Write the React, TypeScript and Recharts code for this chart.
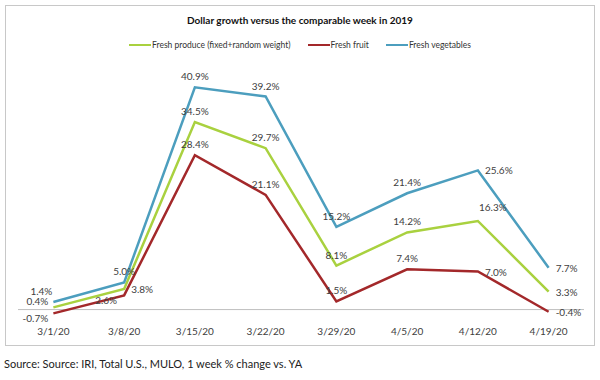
import { LineChart, Line, XAxis, YAxis, ReferenceLine, LabelList } from 'recharts';

const weeks = ['3/1/20', '3/8/20', '3/15/20', '3/22/20', '3/29/20', '4/5/20', '4/12/20', '4/19/20'];
const produce = [0.4, 3.8, 34.5, 29.7, 8.1, 14.2, 16.3, 3.3];
const fruit = [-0.7, 2.6, 28.4, 21.1, 1.5, 7.4, 7.0, -0.4];
const vegetables = [1.4, 5.0, 40.9, 39.2, 15.2, 21.4, 25.6, 7.7];

// where each value label sits relative to its point
const producePos = ['l', 'r', 't', 't', 't', 't', 'tr', 'r'];
const fruitPos = ['bl', 'bl', 't', 't', 't', 't', 'r', 'r'];
const vegPos = ['tl', 't', 't', 't', 't', 't', 'r', 'r'];

const data = weeks.map((w, i) => ({
  week: w,
  produce: produce[i],
  fruit: fruit[i],
  vegetables: vegetables[i],
}));

const GREEN = '#A9D13F';
const RED = '#A3282A';
const BLUE = '#4C9EBE';
const FONT = 'Lato, "Open Sans", sans-serif';

const offsets: Record<string, { dx: number; dy: number; anchor: 'start' | 'middle' | 'end' }> = {
  t: { dx: 0, dy: -11, anchor: 'middle' },
  tl: { dx: -12, dy: -11, anchor: 'middle' },
  tr: { dx: 15, dy: -14, anchor: 'middle' },
  l: { dx: -16, dy: -6, anchor: 'middle' },
  bl: { dx: -18, dy: 5, anchor: 'middle' },
  r: { dx: 7, dy: 0, anchor: 'start' },
};

const makeLabel = (positions: string[]) => (props: any) => {
  const { x, y, value, index } = props;
  const o = offsets[positions[index]] || offsets.t;
  return (
    <text
      x={x + o.dx}
      y={y + o.dy}
      textAnchor={o.anchor}
      dominantBaseline="central"
      fontSize={10}
      fontFamily={FONT}
      fill="#404040"
    >
      {value.toFixed(1)}%
    </text>
  );
};

const legendItems = [
  { name: 'Fresh produce (fixed+random weight)', color: GREEN },
  { name: 'Fresh fruit', color: RED },
  { name: 'Fresh vegetables', color: BLUE },
];

export default function App() {
  return (
    <div style={{ position: 'absolute', left: 0, top: 0, width: 600, height: 380, background: '#fff', fontFamily: FONT }}>
      <div
        style={{
          position: 'absolute',
          left: 5,
          top: 5,
          width: 588,
          height: 339,
          border: '1px solid #c8c8c8',
        }}
      >
        <div
          style={{
            position: 'absolute',
            top: 8,
            width: '100%',
            textAlign: 'center',
            fontWeight: 'bold',
            fontSize: 10,
            color: '#111',
          }}
        >
          Dollar growth versus the comparable week in 2019
        </div>
        <div
          style={{
            position: 'absolute',
            top: 34,
            width: '100%',
            display: 'flex',
            justifyContent: 'center',
            gap: 17,
            fontSize: 8.5,
            color: '#333',
          }}
        >
          {legendItems.map((it) => (
            <div key={it.name} style={{ display: 'flex', alignItems: 'center' }}>
              <span style={{ display: 'inline-block', width: 22, height: 2, background: it.color, marginRight: 1 }} />
              {it.name}
            </div>
          ))}
        </div>
        <div style={{ position: 'absolute', left: 0, top: 0 }}>
          <LineChart width={590} height={340} data={data} margin={{ top: 59, right: 12, bottom: 1, left: 12 }}>
            <XAxis
              dataKey="week"
              scale="band"
              axisLine={false}
              tickLine={false}
              tick={{ fontSize: 10, fill: '#404040', fontFamily: FONT }}
              tickMargin={7}
            />
            <YAxis hide domain={[-1, 45]} />
            <ReferenceLine y={0} stroke="#bfbfbf" strokeWidth={1} />
            <Line dataKey="produce" stroke={GREEN} strokeWidth={2.5} dot={false} isAnimationActive={false}>
              <LabelList dataKey="produce" content={makeLabel(producePos)} />
            </Line>
            <Line dataKey="fruit" stroke={RED} strokeWidth={2.5} dot={false} isAnimationActive={false}>
              <LabelList dataKey="fruit" content={makeLabel(fruitPos)} />
            </Line>
            <Line dataKey="vegetables" stroke={BLUE} strokeWidth={2.5} dot={false} isAnimationActive={false}>
              <LabelList dataKey="vegetables" content={makeLabel(vegPos)} />
            </Line>
          </LineChart>
        </div>
      </div>
      <div style={{ position: 'absolute', left: 4, top: 357, fontSize: 11, color: '#222' }}>
        Source: Source: IRI, Total U.S., MULO, 1 week % change vs. YA
      </div>
    </div>
  );
}
